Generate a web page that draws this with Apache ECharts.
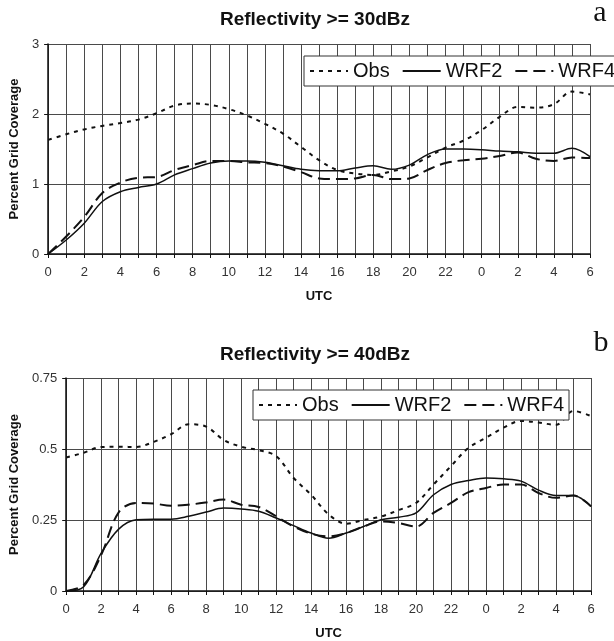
<!DOCTYPE html>
<html>
<head>
<meta charset="utf-8">
<script src="https://cdn.jsdelivr.net/npm/echarts@6/dist/echarts.min.js"></script>
<style>
  html, body { margin: 0; padding: 0; background: #fff; }
  #chart { width: 614px; height: 641px; }
</style>
</head>
<body>
<div id="chart"></div>
<script>
// Hours since 00 UTC on the first day (0..30 h)
const hours = [0, 1, 2, 3, 4, 5, 6, 7, 8, 9, 10, 11, 12, 13, 14, 15, 16, 17, 18, 19, 20, 21, 22, 23, 24, 25, 26, 27, 28, 29, 30];
// Labels shown at every second hour
const utcTickLabels = ['0', '2', '4', '6', '8', '10', '12', '14', '16', '18', '20', '22', '0', '2', '4', '6'];

// Panel a: reflectivity >= 30 dBZ, percent grid coverage
const obs30 = [1.63, 1.71, 1.78, 1.83, 1.87, 1.92, 2.01, 2.12, 2.15, 2.13, 2.07, 1.98, 1.86, 1.72, 1.53, 1.34, 1.20, 1.15, 1.13, 1.18, 1.25, 1.38, 1.52, 1.62, 1.77, 1.96, 2.10, 2.09, 2.14, 2.32, 2.28];
const wrf2_30 = [0.00, 0.20, 0.44, 0.75, 0.89, 0.95, 1.00, 1.13, 1.22, 1.30, 1.33, 1.33, 1.31, 1.26, 1.21, 1.19, 1.19, 1.23, 1.26, 1.21, 1.27, 1.42, 1.50, 1.50, 1.49, 1.47, 1.46, 1.44, 1.44, 1.51, 1.39];
const wrf4_30 = [0.00, 0.25, 0.53, 0.87, 1.02, 1.09, 1.10, 1.20, 1.27, 1.33, 1.33, 1.31, 1.30, 1.25, 1.17, 1.08, 1.07, 1.08, 1.13, 1.07, 1.08, 1.20, 1.30, 1.34, 1.36, 1.40, 1.45, 1.36, 1.33, 1.38, 1.37];

// Panel b: reflectivity >= 40 dBZ, percent grid coverage
const obs40 = [0.470, 0.487, 0.507, 0.508, 0.507, 0.525, 0.552, 0.587, 0.579, 0.532, 0.508, 0.496, 0.475, 0.398, 0.339, 0.270, 0.237, 0.250, 0.262, 0.285, 0.310, 0.375, 0.440, 0.504, 0.540, 0.575, 0.599, 0.593, 0.585, 0.634, 0.616];
const wrf2_40 = [0.000, 0.015, 0.133, 0.218, 0.251, 0.253, 0.253, 0.263, 0.278, 0.292, 0.289, 0.281, 0.257, 0.230, 0.204, 0.186, 0.204, 0.227, 0.251, 0.260, 0.275, 0.339, 0.375, 0.389, 0.398, 0.395, 0.387, 0.355, 0.336, 0.336, 0.298];
const wrf4_40 = [0.000, 0.021, 0.127, 0.277, 0.310, 0.308, 0.300, 0.304, 0.312, 0.322, 0.304, 0.296, 0.263, 0.227, 0.202, 0.192, 0.204, 0.227, 0.245, 0.239, 0.227, 0.275, 0.310, 0.348, 0.363, 0.375, 0.375, 0.345, 0.328, 0.336, 0.298];

const FONT = "'Liberation Sans', Arial, sans-serif";
const INK = '#111';
const GRIDC = '#4a4a4a';

const pair = (vals) => hours.map((h, i) => [h, vals[i]]);

const lineStyles = {
  Obs: { type: [4, 5], width: 2 },
  WRF2: { type: 'solid', width: 1.5 },
  WRF4: { type: [12, 6], width: 2 }
};

function mkSeries(name, vals, idx) {
  return {
    name: name,
    type: 'line',
    xAxisIndex: idx,
    yAxisIndex: idx,
    data: pair(vals),
    showSymbol: false,
    symbol: 'none',
    smooth: 0.35,
    lineStyle: Object.assign({ color: INK }, lineStyles[name]),
    itemStyle: { color: INK },
    z: 3
  };
}

function xAxisFor(idx) {
  return {
    type: 'value', gridIndex: idx, min: 0, max: 30, interval: 1,
    name: 'UTC', nameLocation: 'middle', nameGap: 36,
    nameTextStyle: { fontFamily: FONT, fontSize: 13, fontWeight: 'bold', color: INK },
    axisLine: { show: true, onZero: false, lineStyle: { color: INK, width: 1.5 } },
    axisTick: { show: true, length: 4, lineStyle: { color: INK } },
    axisLabel: {
      margin: 12, fontFamily: FONT, fontSize: 13, color: '#333',
      formatter: (v) => (v % 2 === 0 ? utcTickLabels[v / 2] : ''),
      showMinLabel: true, showMaxLabel: true
    },
    splitLine: { show: true, lineStyle: { color: GRIDC, width: 1 } }
  };
}

function yAxisFor(idx, max, interval, gap) {
  return {
    type: 'value', gridIndex: idx, min: 0, max: max, interval: interval,
    name: 'Percent Grid Coverage', nameLocation: 'middle', nameGap: gap,
    nameTextStyle: { fontFamily: FONT, fontSize: 13, fontWeight: 'bold', color: INK },
    axisLine: { show: true, lineStyle: { color: INK, width: 1.5 } },
    axisTick: { show: true, length: 4, lineStyle: { color: INK } },
    axisLabel: { margin: 9, fontFamily: FONT, fontSize: 13, color: '#333' },
    splitLine: { show: true, lineStyle: { color: GRIDC, width: 1 } }
  };
}

function legendFor(left, top) {
  return {
    left: left, top: top,
    width: 360,
    orient: 'horizontal',
    data: ['Obs', 'WRF2', 'WRF4'],
    selectedMode: false,
    itemWidth: 38, itemHeight: 14, itemGap: 12,
    padding: [4, 5],
    backgroundColor: '#fff',
    borderColor: '#333', borderWidth: 1,
    itemStyle: { opacity: 0 },
    textStyle: { fontFamily: FONT, fontSize: 20, color: INK, lineHeight: 22 }
  };
}

const chart = echarts.init(document.getElementById('chart'), null, { renderer: 'canvas' });

chart.setOption({
  backgroundColor: '#fff',
  animation: false,
  grid: [
    { left: 47, top: 44, width: 543, height: 210, containLabel: false },
    { left: 63, top: 378, width: 528, height: 213, containLabel: false }
  ],
  xAxis: [xAxisFor(0), xAxisFor(1)],
  yAxis: [yAxisFor(0, 3, 1, 26), yAxisFor(1, 0.75, 0.25, 41)],
  legend: [legendFor(304, 56), legendFor(253, 390)],
  graphic: [
    { type: 'text', x: 315, y: 20, style: { text: 'Reflectivity >= 30dBz', fontFamily: FONT, fontSize: 19, fontWeight: 'bold', fill: INK, textAlign: 'center', textVerticalAlign: 'middle' } },
    { type: 'text', x: 315, y: 355, style: { text: 'Reflectivity >= 40dBz', fontFamily: FONT, fontSize: 19, fontWeight: 'bold', fill: INK, textAlign: 'center', textVerticalAlign: 'middle' } },
    { type: 'text', x: 600, y: 13, style: { text: 'a', fontFamily: "'Liberation Serif', 'Times New Roman', serif", fontSize: 30, fill: INK, textAlign: 'center', textVerticalAlign: 'middle' } },
    { type: 'text', x: 601, y: 343, style: { text: 'b', fontFamily: "'Liberation Serif', 'Times New Roman', serif", fontSize: 30, fill: INK, textAlign: 'center', textVerticalAlign: 'middle' } }
  ],
  series: [
    mkSeries('Obs', obs30, 0),
    mkSeries('WRF2', wrf2_30, 0),
    mkSeries('WRF4', wrf4_30, 0),
    mkSeries('Obs', obs40, 1),
    mkSeries('WRF2', wrf2_40, 1),
    mkSeries('WRF4', wrf4_40, 1)
  ]
});
</script>
</body>
</html>
